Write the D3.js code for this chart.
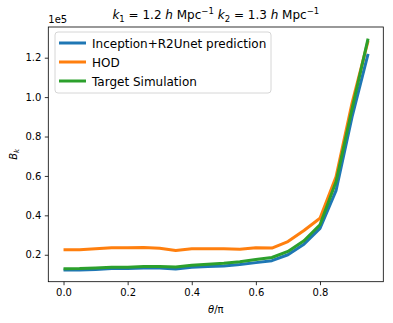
<!DOCTYPE html>
<html>
<head>
<meta charset="utf-8">
<script src="https://cdn.jsdelivr.net/npm/d3@7"></script>
<style>
  body { margin: 0; background: #fff; }
  svg { display: block; font-family: "DejaVu Sans", sans-serif; }
</style>
</head>
<body>
<script>
let theta = [0, 0.05, 0.1, 0.15, 0.2, 0.25, 0.3, 0.35, 0.4, 0.45, 0.5, 0.55, 0.6, 0.65, 0.7, 0.75, 0.8, 0.85, 0.9, 0.95];
let predValues = [0.122, 0.122, 0.125, 0.13, 0.13, 0.133, 0.133, 0.128, 0.137, 0.14, 0.143, 0.15, 0.16, 0.17, 0.2, 0.253, 0.334, 0.525, 0.9, 1.219];
let hodValues = [0.225, 0.225, 0.23, 0.235, 0.235, 0.237, 0.233, 0.222, 0.23, 0.23, 0.23, 0.228, 0.235, 0.234, 0.267, 0.323, 0.385, 0.595, 0.97, 1.285];
let targetValues = [0.129, 0.13, 0.133, 0.137, 0.137, 0.14, 0.14, 0.138, 0.147, 0.152, 0.157, 0.165, 0.176, 0.186, 0.217, 0.271, 0.352, 0.57, 0.94, 1.297];
let seriesNames = ["Inception+R2Unet prediction", "HOD", "Target Simulation"];
let seriesColors = ["#1f77b4", "#ff7f0e", "#2ca02c"];
let xTicks = [0.0, 0.2, 0.4, 0.6, 0.8];
let yTicks = [0.2, 0.4, 0.6, 0.8, 1.0, 1.2];

let width = 393, height = 323;
let plot = { left: 48.3, right: 383.3, top: 27, bottom: 281.7 };

let svg = d3.select("body").append("svg")
  .attr("width", width).attr("height", height);

let series = [predValues, hodValues, targetValues];

let scaleX = d3.scaleLinear().domain([-0.0475, 0.9975]).range([plot.left, plot.right]);
let allY = predValues.concat(hodValues, targetValues);
let yMin = d3.min(allY), yMax = d3.max(allY);
let pad = (yMax - yMin) * 0.05;
let scaleY = d3.scaleLinear().domain([yMin - pad, yMax + pad]).range([plot.bottom, plot.top]);

let line = d3.line()
  .x((d, i) => scaleX(theta[i]))
  .y(d => scaleY(d));

series.forEach((s, i) => {
  svg.append("path")
    .datum(s)
    .attr("d", line)
    .attr("fill", "none")
    .attr("stroke", seriesColors[i])
    .attr("stroke-width", 3)
    .attr("stroke-linejoin", "round");
});

// axes
let xAxis = svg.append("g")
  .attr("transform", "translate(0," + plot.bottom + ")")
  .call(d3.axisBottom(scaleX).tickValues(xTicks).tickFormat(d3.format(".1f")).tickSize(3.5).tickPadding(3.5));
let yAxis = svg.append("g")
  .attr("transform", "translate(" + plot.left + ",0)")
  .call(d3.axisLeft(scaleY).tickValues(yTicks).tickFormat(d3.format(".1f")).tickSize(3.5).tickPadding(3.5));
[xAxis, yAxis].forEach(a => {
  a.select(".domain").remove();
  a.selectAll("text").attr("font-size", 10).attr("fill", "#000").attr("font-family", "DejaVu Sans");
  a.selectAll("line").attr("stroke", "#000").attr("stroke-width", 0.8);
});

svg.append("rect")
  .attr("x", plot.left).attr("y", plot.top)
  .attr("width", plot.right - plot.left).attr("height", plot.bottom - plot.top)
  .attr("fill", "none").attr("stroke", "#000").attr("stroke-width", 0.8);

// offset text
svg.append("text").text("1e5")
  .attr("x", plot.left).attr("y", plot.top - 4)
  .attr("font-size", 10);

// title
let title = svg.append("text")
  .attr("x", (plot.left + plot.right) / 2).attr("y", 19)
  .attr("text-anchor", "middle").attr("font-size", 12);
title.append("tspan").attr("font-style", "italic").text("k");
title.append("tspan").attr("font-size", 8.5).attr("dy", 3).text("1");
title.append("tspan").attr("dy", -3).text(" = 1.2 ");
title.append("tspan").attr("font-style", "italic").text("h");
title.append("tspan").text(" Mpc");
title.append("tspan").attr("font-size", 8.5).attr("dy", -5).text("\u22121");
title.append("tspan").attr("dy", 5).text(" ");
title.append("tspan").attr("font-style", "italic").text("k");
title.append("tspan").attr("font-size", 8.5).attr("dy", 3).text("2");
title.append("tspan").attr("dy", -3).text(" = 1.3 ");
title.append("tspan").attr("font-style", "italic").text("h");
title.append("tspan").text(" Mpc");
title.append("tspan").attr("font-size", 8.5).attr("dy", -5).text("\u22121");

// axis labels
let xl = svg.append("text")
  .attr("x", (plot.left + plot.right) / 2).attr("y", 313)
  .attr("text-anchor", "middle").attr("font-size", 10);
xl.append("tspan").attr("font-style", "italic").text("\u03b8");
xl.append("tspan").text("/\u03c0");

let yl = svg.append("text")
  .attr("transform", "translate(17," + ((plot.top + plot.bottom) / 2) + ") rotate(-90)")
  .attr("text-anchor", "middle").attr("font-size", 10);
yl.append("tspan").attr("font-style", "italic").text("B");
yl.append("tspan").attr("font-style", "italic").attr("font-size", 7).attr("dy", 2).text("k");

// legend
let legend = svg.append("g").attr("transform", "translate(55,32)");
legend.append("rect")
  .attr("width", 216).attr("height", 61).attr("rx", 3)
  .attr("fill", "#fff").attr("fill-opacity", 0.8)
  .attr("stroke", "#ccc").attr("stroke-width", 0.8);
let items = legend.selectAll(".item").data(seriesNames).enter().append("g")
  .attr("transform", (d, i) => "translate(0," + (11 + i * 19) + ")");
items.append("line")
  .attr("x1", 4).attr("x2", 31).attr("y1", 0).attr("y2", 0)
  .attr("stroke", (d, i) => seriesColors[i]).attr("stroke-width", 3);
items.append("text")
  .attr("x", 37).attr("y", 4.5)
  .attr("font-size", 12)
  .text(d => d);
</script>
</body>
</html>
